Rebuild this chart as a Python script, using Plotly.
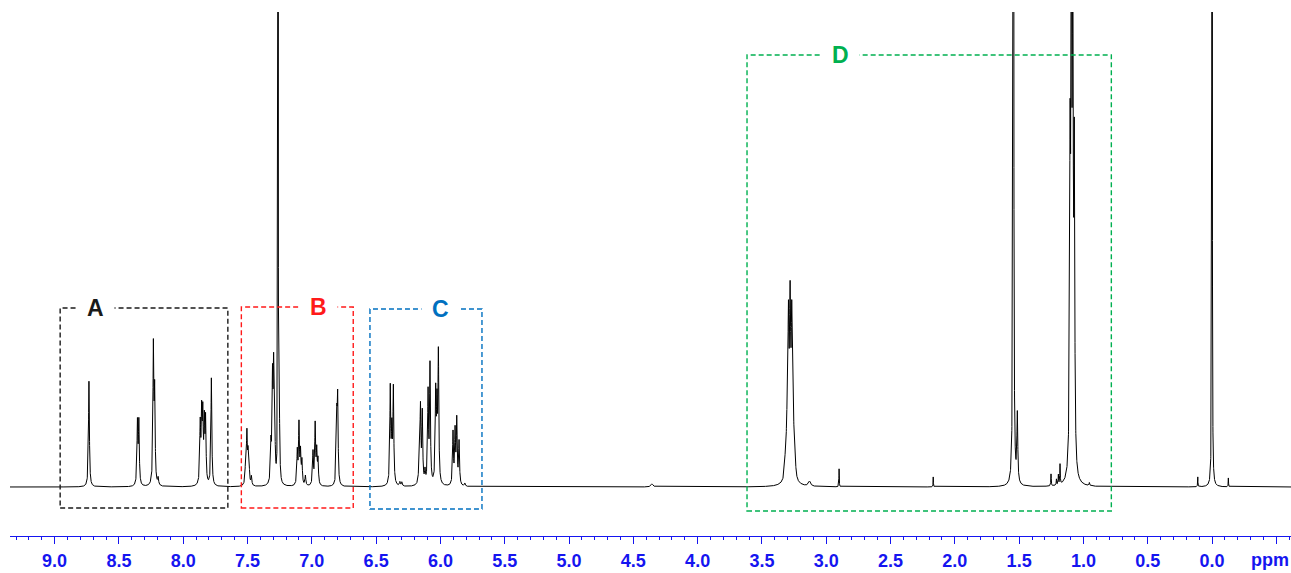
import numpy as np
import plotly.graph_objects as go

# ---- peak table (ppm, height in plot units, half-width in ppm)
peak_ppm = [
    8.733, 8.356, 8.345, 8.232, 8.222, 8.195,
    7.868, 7.857, 7.848, 7.836, 7.826, 7.781,
    7.514, 7.505, 7.496, 7.488, 7.470,
    7.318, 7.306, 7.297, 7.289, 7.263, 7.253,
    7.113, 7.100, 7.088, 7.077, 7.050,
    6.991, 6.974, 6.962, 6.952,
    6.806, 6.799,
    6.390, 6.378, 6.366, 6.315, 6.300,
    6.163, 6.155, 6.141, 6.120,
    6.096, 6.081,
    6.037, 6.027, 6.016,
    5.902, 5.886, 5.873, 5.855, 5.810,
    4.355,
    3.320, 3.307, 3.294, 3.281, 3.268, 3.255, 3.242, 3.280, 3.130,
    2.900, 2.168,
    1.545, 1.514,
    1.252, 1.210, 1.195, 1.182,
    1.104, 1.094, 1.083, 1.071,
    0.954, 0.111, 0.000, -0.127,
]
peak_height = [
    106, 62, 62, 136, 88, 7,
    58, 66, 64, 58, 62, 108,
    30, 48, 28, 18, 9,
    36, 98, 104, 55, 3000, 70,
    33, 60, 31, 23, 10,
    33, 60, 32, 24,
    62, 82,
    96, 50, 95, 4, 4,
    45, 70, 70, 12,
    90, 118,
    88, 70, 128,
    52, 52, 64, 43, 3,
    3,
    14, 40, 142, 145, 140, 45, 16, 22, 5,
    18, 10,
    2000, 68,
    12, 6, 10, 20,
    295, 500, 500, 300,
    3, 10, 2000, 9,
]
peak_width = [
    0.004, 0.004, 0.004, 0.004, 0.004, 0.004,
    0.004, 0.004, 0.004, 0.004, 0.004, 0.004,
    0.004, 0.004, 0.004, 0.004, 0.004,
    0.004, 0.004, 0.004, 0.004, 0.0008, 0.004,
    0.004, 0.004, 0.004, 0.004, 0.004,
    0.004, 0.004, 0.004, 0.004,
    0.004, 0.004,
    0.004, 0.004, 0.004, 0.004, 0.004,
    0.004, 0.004, 0.004, 0.004,
    0.004, 0.004,
    0.004, 0.004, 0.004,
    0.004, 0.004, 0.004, 0.004, 0.004,
    0.010,
    0.005, 0.005, 0.005, 0.005, 0.005, 0.005, 0.005, 0.020, 0.010,
    0.0015, 0.0015,
    0.002, 0.004,
    0.002, 0.002, 0.002, 0.002,
    0.004, 0.004, 0.004, 0.004,
    0.003, 0.0015, 0.0012, 0.0015,
]

# region boxes: label, colour, ppm left, ppm right, low, high
box_label = ["A", "B", "C", "D"]
box_color = ["#1a1a1a", "#FF1A1A", "#0070C0", "#00B050"]
box_ppm_left = [8.957, 7.548, 6.548, 3.616]
box_ppm_right = [7.653, 6.678, 5.677, 0.783]
box_low = [-21, -21, -22, -24]
box_high = [179, 180, 178, 432]
label_ppm = [8.68, 6.952, 5.996, 2.887]

tick_vals = [9.0, 8.5, 8.0, 7.5, 7.0, 6.5, 6.0, 5.5, 5.0, 4.5, 4.0, 3.5, 3.0,
             2.5, 2.0, 1.5, 1.0, 0.5, 0.0, -0.5]
tick_text = ["9.0", "8.5", "8.0", "7.5", "7.0", "6.5", "6.0", "5.5", "5.0", "4.5",
             "4.0", "3.5", "3.0", "2.5", "2.0", "1.5", "1.0", "0.5", "0.0", ""]

# ---- build spectrum from the peak table
x = np.arange(-0.62, 9.36, 0.0004)
y = np.zeros_like(x)
for p, h, w in zip(peak_ppm, peak_height, peak_width):
    y += h / (1.0 + ((x - p) / w) ** 2)

fig = go.Figure()
fig.add_trace(go.Scatter(x=x, y=y, mode="lines",
                         line=dict(color="black", width=1),
                         hoverinfo="skip", showlegend=False))

for lab, col, x0, x1, lo, hi, lx in zip(box_label, box_color, box_ppm_left,
                                         box_ppm_right, box_low, box_high, label_ppm):
    fig.add_shape(type="rect", xref="x", yref="y", x0=x0, x1=x1, y0=lo, y1=hi,
                  line=dict(color=col, width=1.4, dash="5px,3px"))
    fig.add_annotation(x=lx, y=hi, xref="x", yref="y", text="<b>%s</b>" % lab,
                       showarrow=False, font=dict(family="Liberation Sans, Arial",
                                                  size=23, color=col),
                       bgcolor="white", borderpad=10, xanchor="center", yanchor="middle")

blue = "#1515F0"
fig.add_annotation(x=-0.448, y=-(560 - 536) / 524.0, xref="x", yref="paper",
                   yanchor="middle", xanchor="center",
                   text="<b>ppm</b>", showarrow=False,
                   font=dict(family="Liberation Sans, Arial", size=18, color=blue))

fig.update_layout(
    width=1291, height=573,
    margin=dict(l=10, r=0, t=12, b=37, autoexpand=False),
    paper_bgcolor="white", plot_bgcolor="white",
    xaxis=dict(range=[9.347, -0.614], showgrid=False, zeroline=False,
               showline=True, linecolor=blue, linewidth=1,
               ticks="outside", ticklen=7, tickwidth=1, tickcolor=blue,
               tickmode="array", tickvals=tick_vals, ticktext=tick_text,
               ticklabelstandoff=1,
               tickfont=dict(family="Liberation Sans, Arial", size=18, color=blue,
                             weight="bold"),
               minor=dict(ticks="outside", ticklen=3, tickcolor=blue, tickwidth=1,
                          tickmode="linear", tick0=0.0, dtick=0.1)),
    yaxis=dict(range=[-49, 475], visible=False, showgrid=False, zeroline=False),
)

# remove the default 8px page margin so the figure fills the window exactly
fig.write_html("out.html",
               config={"displayModeBar": False},
               post_script="document.body.style.margin='0px';"
                           "document.body.style.overflow='hidden';")
